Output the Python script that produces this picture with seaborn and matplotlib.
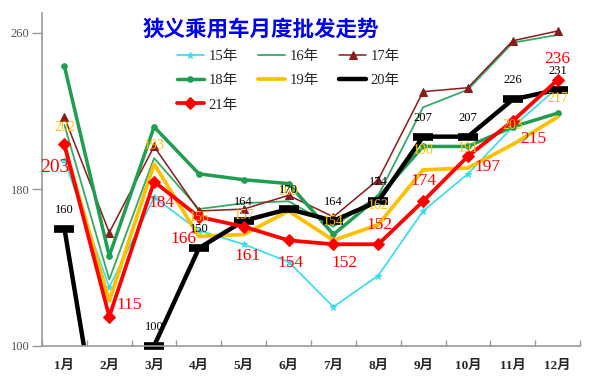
import numpy as np
import matplotlib
matplotlib.use('Agg')
import matplotlib.pyplot as plt
import seaborn as sns

# monthly wholesale, 10k units
months = ['1月', '2月', '3月', '4月', '5月', '6月', '7月', '8月', '9月', '10月', '11月', '12月']
y15 = [195, 130, 176, 159, 152, 143, 120, 136, 169, 188, 212, 232]
y16 = [213, 134, 196, 170, 173, 174, 161, 177, 222, 231, 255, 259]
y17 = [217, 158, 202, 169, 170, 177, 166, 185, 230, 232, 256, 261]
y18 = [243, 146, 212, 188, 185, 183, 157, 176, 202, 202, 212, 219]
y19 = [202, 123, 193, 156, 157, 169, 154, 162, 190, 191, 203, 217]
y20 = [160, 22, 100, 150, 164, 170, 164, 174, 207, 207, 226, 231]
y21 = [203, 115, 184, 166, 161, 154, 152, 152, 174, 197, 215, 236]

sns.set_style('white')
plt.rcParams['font.family'] = ['Liberation Serif', 'Noto Sans CJK SC']

x = np.arange(len(months))
fig = plt.figure(figsize=(5.95, 3.85), dpi=100)
ax = fig.add_axes([42 / 595, 39 / 385, 538 / 595, 333 / 385])

series = [
    ('15年', y15, dict(color='#33DDEE', linewidth=1.2, marker='*', markersize=5)),
    ('16年', y16, dict(color='#33AA66', linewidth=1.3)),
    ('17年', y17, dict(color='#8B1A1A', linewidth=1.1, marker='^', markersize=6)),
    ('18年', y18, dict(color='#1E9E50', linewidth=2.5, marker='o', markersize=4)),
    ('19年', y19, dict(color='#FFC000', linewidth=2.7)),
]
for name, vals, kw in series:
    sns.lineplot(x=x, y=vals, label=name, ax=ax, markeredgecolor=kw['color'], **kw)

# 20年: line clipped, markers only for visible points
sns.lineplot(x=x, y=y20, color='black', linewidth=3.2, label='20年', ax=ax)
v20 = np.array(y20)
ok = v20 >= 100
ax.plot(x[ok], v20[ok], ls='none', marker='_', markersize=14, mew=5.5,
        color='black', clip_on=False)

sns.lineplot(x=x, y=y21, color='#FF0000', linewidth=2.7, marker='D', markersize=6,
             markeredgecolor='#FF0000', label='21年', ax=ax)

# data labels
for i, v in enumerate(y19):
    if i == 1:
        continue
    ax.annotate(str(v), (x[i], v), xytext=(0, 19), textcoords='offset pixels',
                ha='center', va='center', color='#FFC000', fontsize=10)
for i, v in enumerate(y20):
    if v < 100:
        continue
    ax.annotate(str(v), (x[i], v), xytext=(0, 19), textcoords='offset pixels',
                ha='center', va='center', color='black', fontsize=9)
red_off = [(-10, -23), (20, 12), (7, -21), (-15, -22), (4, -29), (2, -23),
           (11, -19), (1, 19), (0, 20), (20, -11), (21, -18), (0, 21)]
for i, v in enumerate(y21):
    ax.annotate(str(v), (x[i], v), xytext=red_off[i], textcoords='offset pixels',
                ha='center', va='center', color='#FF0000',
                fontsize=14 if i == 0 else 12.5)

ax.set_xlim(-0.5, 11.5)
ax.set_ylim(100, 270.2)
ax.set_yticks([100, 180, 260])
ax.set_xticks(x, months, fontweight='bold', fontsize=9.5)
ax.set_xticks(np.arange(-0.5, 12, 1), minor=True)
ax.tick_params(axis='y', direction='out', length=7, width=1, color='#999999',
               labelcolor='#555555', labelsize=9, pad=2, left=True)
ax.tick_params(axis='x', which='major', length=0, pad=10)
ax.tick_params(axis='x', which='minor', direction='in', length=4, width=1,
               color='#999999', bottom=True)
ax.set_xlabel('')
ax.set_ylabel('')
for s in ['top', 'right']:
    ax.spines[s].set_visible(False)
for s in ['left', 'bottom']:
    ax.spines[s].set_color('#999999')
    ax.spines[s].set_linewidth(1.2)

handles, labels = ax.get_legend_handles_labels()
order = [0, 3, 6, 1, 4, 2, 5]
ax.legend([handles[i] for i in order], [labels[i] for i in order], ncol=3,
          frameon=False, loc='upper left', bbox_to_anchor=(177 / 595, 1 - 50 / 385),
          bbox_transform=fig.transFigure, borderpad=0, borderaxespad=0,
          fontsize=10.5, handlelength=1.85, handletextpad=0.3,
          columnspacing=1.4, labelspacing=0.75)

fig.text(261 / 595, 1 - 29 / 385, '狭义乘用车月度批发走势', ha='center', va='center',
         color='#0000EE', fontsize=15.5, fontweight='bold', family='Noto Sans CJK SC')

fig.savefig('out.png', dpi=100)
